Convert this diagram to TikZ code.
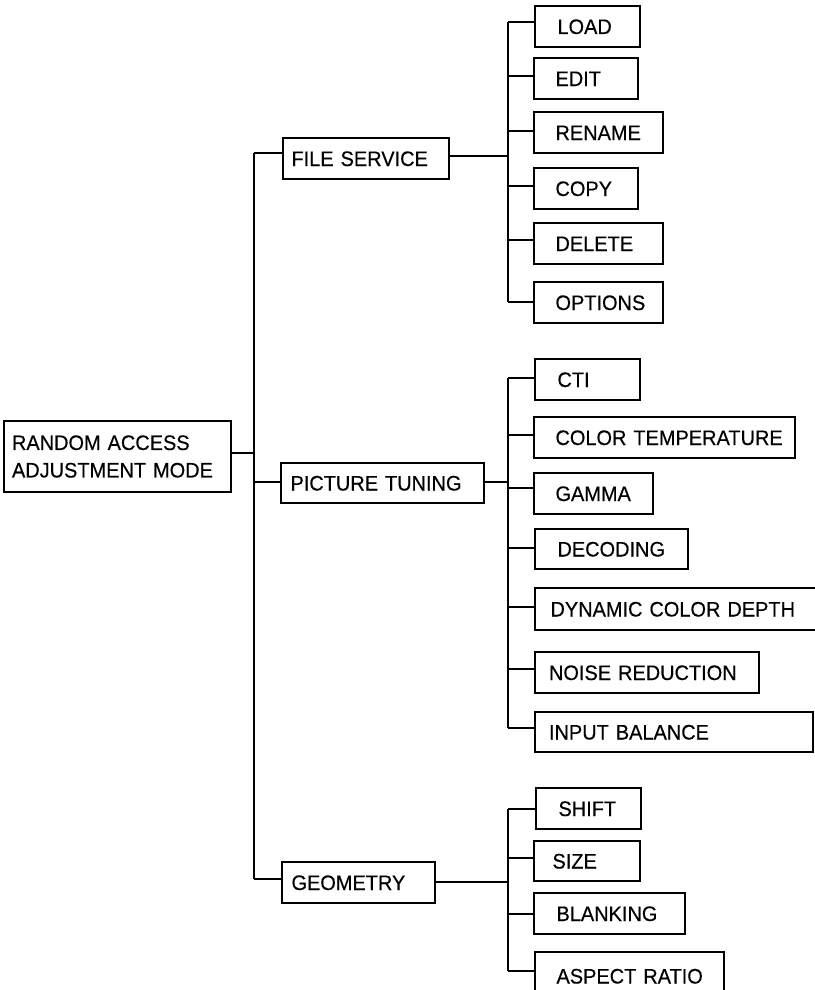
\documentclass[tikz,border=0pt]{standalone}
\usepackage{fontspec}
\setmainfont{Liberation Sans}[FakeStretch=0.95, WordSpace=0.1, FakeBold=0.4]
\begin{document}
\begin{tikzpicture}[x=1pt,y=-1pt,
  box/.style={draw, line width=1.3pt, anchor=north west, align=left, inner ysep=0pt, outer sep=0pt,
    font=\fontsize{21}{27.5}\selectfont},
  one/.style={text height=15pt, text depth=0pt},
  conn/.style={draw, line width=1.3pt}]
\useasboundingbox (0,0) rectangle (814,990);
\newcommand\bx[8][one]{%
  \pgfmathsetmacro\BoxWd{#5-#3}\pgfmathsetmacro\BoxHt{#6-#4}\pgfmathsetmacro\BoxTw{#5-#3-2*#7}%
  \node[box,#1, inner xsep=#7pt, minimum width=\BoxWd pt, minimum height=\BoxHt pt, text width=\BoxTw pt] (#2) at (#3,#4) {#8};}
% root and level 1
\bx[yshift=0pt]{root}{4}{421}{231}{492}{8}{\mbox{RANDOM ACCESS}\\\mbox{ADJUSTMENT MODE}}
\bx{FS}{283}{138}{449}{179}{8.5}{\mbox{FILE SERVICE}}
\bx{PT}{281}{463}{484}{503}{9.5}{\mbox{PICTURE TUNING}}
\bx{GEO}{282}{862}{435}{903}{9.5}{GEOMETRY}
% file service children
\bx{LOAD}{535}{6}{640}{47}{22.5}{LOAD}
\bx{EDIT}{534}{58}{638}{99}{21.5}{EDIT}
\bx{RENAME}{534}{112}{663}{153}{21.5}{RENAME}
\bx{COPY}{534}{168}{638}{209}{21.5}{COPY}
\bx{DELETE}{534}{223}{663}{264}{21.5}{DELETE}
\bx{OPTIONS}{534}{282}{663}{323}{21.5}{OPTIONS}
% picture tuning children
\bx{CTI}{535}{359}{640}{400}{22.5}{CTI}
\bx{CT}{534}{417}{795}{458}{21.5}{\mbox{COLOR TEMPERATURE}}
\bx{GAMMA}{534}{473}{653}{514}{21.5}{GAMMA}
\bx{DEC}{535}{529}{688}{569}{22.5}{DECODING}
\bx{DCD}{535}{588}{816}{630}{15.5}{\mbox{DYNAMIC COLOR DEPTH}}
\bx{NR}{535}{652}{759}{693}{14}{\mbox{NOISE REDUCTION}}
\bx{IB}{535}{712}{813}{752}{14}{\mbox{INPUT BALANCE}}
% geometry children
\bx{SHIFT}{536}{788}{641}{829}{22.5}{SHIFT}
\bx{SIZE}{534}{841}{640}{881}{18.5}{SIZE}
\bx{BLANK}{534}{893}{685}{934}{22.5}{BLANKING}
\bx{AR}{535}{952}{724}{1000}{21.5}{\mbox{ASPECT RATIO}}
% connector coordinates
\coordinate (iR) at (254,453);
\coordinate (cFS) at (254,153);
\coordinate (cPT) at (254,482);
\coordinate (cGEO) at (254,879);
\coordinate (iFS) at (508,156);
\coordinate (iPT) at (508,482);
\coordinate (iGEO) at (508,882);
\coordinate (cLOAD) at (508,22);
\coordinate (cEDIT) at (508,76);
\coordinate (cRENAME) at (508,131);
\coordinate (cCOPY) at (508,186);
\coordinate (cDELETE) at (508,240);
\coordinate (cOPTIONS) at (508,302);
\coordinate (cCTI) at (508,378);
\coordinate (cCT) at (508,435);
\coordinate (cGAMMA) at (508,488);
\coordinate (cDEC) at (508,548);
\coordinate (cDCD) at (508,607);
\coordinate (cNR) at (508,669);
\coordinate (cIB) at (508,728);
\coordinate (cSHIFT) at (508,809);
\coordinate (cSIZE) at (508,858);
\coordinate (cBLANK) at (508,914);
\coordinate (cAR) at (508,971);
% main trunk
\draw[conn] (iR -| root.east) -- (iR);
\draw[conn] (cFS) -- (cGEO);
\foreach \n in {FS,PT,GEO} \draw[conn] (c\n) -- (c\n -| \n.west);
% sub trunks
\foreach \p/\a/\b in {FS/LOAD/OPTIONS, PT/CTI/IB, GEO/SHIFT/AR} {
  \draw[conn] (i\p -| \p.east) -- (i\p);
  \draw[conn] (c\a) -- (c\b);
}
\foreach \n in {LOAD,EDIT,RENAME,COPY,DELETE,OPTIONS,CTI,CT,GAMMA,DEC,DCD,NR,IB,SHIFT,SIZE,BLANK,AR}
  \draw[conn] (c\n) -- (c\n -| \n.west);
\end{tikzpicture}
\end{document}
